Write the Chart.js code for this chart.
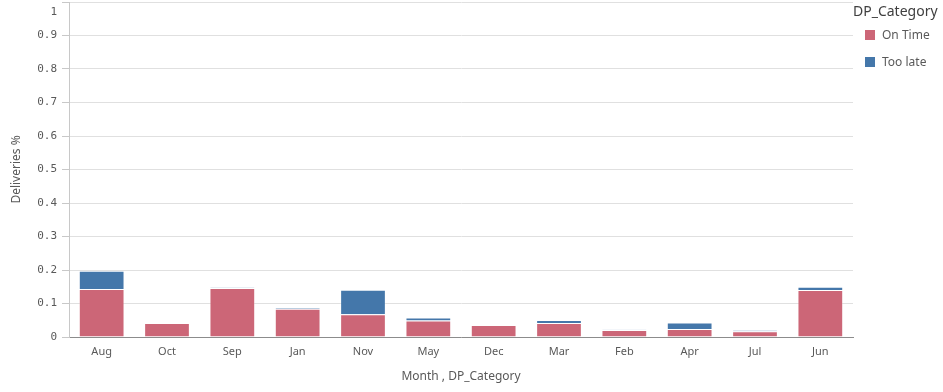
<!DOCTYPE html>
<html>
<head>
<meta charset="utf-8">
<script src="https://cdn.jsdelivr.net/npm/chart.js@4/dist/chart.umd.min.js"></script>
<style>
  html, body { margin: 0; padding: 0; background: #fff; }
  #wrap { position: relative; width: 943px; height: 392px; overflow: hidden; }
  #legend { position: absolute; left: 853px; top: 0; width: 90px; font-family: "Noto Sans", sans-serif; color: #595959; }
  #legend .title { position: absolute; left: 0; top: 1px; font-size: 14px; white-space: nowrap; color: #404040; }
  #legend .item { position: absolute; left: 12px; font-size: 12px; white-space: nowrap; }
  #legend .sw { display: inline-block; width: 10px; height: 10px; vertical-align: -1px; margin-right: 7px; }
</style>
</head>
<body>
<div id="wrap">
  <canvas id="c" width="943" height="392"></canvas>
  <div id="legend">
    <div class="title">DP_Category</div>
    <div class="item" style="top:26px"><span class="sw" style="background:#cc6677"></span>On Time</div>
    <div class="item" style="top:53px"><span class="sw" style="background:#4477aa"></span>Too late</div>
  </div>
</div>
<script>
const months = ["Aug","Oct","Sep","Jan","Nov","May","Dec","Mar","Feb","Apr","Jul","Jun"];
const onTime = [0.143, 0.042, 0.146, 0.084, 0.068, 0.049, 0.036, 0.042, 0.021, 0.024, 0.017, 0.140];
const tooLate = [0.055, 0, 0.002, 0.004, 0.073, 0.009, 0, 0.009, 0.001, 0.019, 0.003, 0.010];
const seriesNames = ["On Time", "Too late"];
const yTicks = [0, 0.1, 0.2, 0.3, 0.4, 0.5, 0.6, 0.7, 0.8, 0.9, 1];

const topLabel = {
  id: 'topLabel',
  afterDraw(chart) {
    const s = chart.scales.y;
    const ctx = chart.ctx;
    ctx.save();
    ctx.font = '11px "DejaVu Sans Mono", monospace';
    ctx.fillStyle = '#595959';
    ctx.textAlign = 'right';
    ctx.textBaseline = 'middle';
    ctx.fillText('1', s.right - 12, s.getPixelForValue(1) + 10);
    ctx.restore();
  }
};

new Chart(document.getElementById('c'), {
  type: 'bar',
  data: {
    labels: months,
    datasets: [
      { label: seriesNames[0], data: onTime, backgroundColor: '#cc6677', borderColor: 'rgba(255,255,255,0.3)', borderWidth: 1 },
      { label: seriesNames[1], data: tooLate, backgroundColor: '#4477aa', borderColor: 'rgba(255,255,255,0.3)', borderWidth: 1 }
    ]
  },
  plugins: [topLabel],
  options: {
    responsive: false,
    animation: false,
    devicePixelRatio: 1,
    layout: { padding: { top: 2, right: 90, left: 0, bottom: 0 } },
    datasets: { bar: { categoryPercentage: 1, barPercentage: 0.7 } },
    plugins: { legend: { display: false }, tooltip: { enabled: false } },
    scales: {
      x: {
        stacked: true,
        afterFit(s) { s.height = 55; s.paddingLeft = 0; s.paddingRight = 0; },
        grid: { display: true, drawOnChartArea: false, drawTicks: false },
        border: { display: true, color: '#8c8c8c', width: 1 },
        ticks: { color: '#595959', font: { family: '"Noto Sans", sans-serif', size: 11 }, padding: 8, maxRotation: 0 },
        title: { display: true, text: 'Month , DP_Category', color: '#595959', font: { family: '"Noto Sans", sans-serif', size: 12 }, padding: { top: 9, bottom: 8 } }
      },
      y: {
        stacked: true,
        min: 0, max: 1,
        afterFit(s) { s.width = 69; s.paddingTop = 0; s.paddingBottom = 0; },
        afterBuildTicks(s) { s.ticks = yTicks.map(v => ({ value: v })); },
        grid: { color: '#e0e0e0', tickColor: '#c8c8c8', tickLength: 7 },
        border: { display: true, color: '#c8c8c8', width: 1 },
        ticks: {
          color: '#595959', padding: 5,
          font: { family: '"DejaVu Sans Mono", monospace', size: 11 },
          callback: (v) => v === 1 ? '' : String(Math.round(v * 10) / 10)
        },
        title: { display: true, text: 'Deliveries %', color: '#595959', font: { family: '"Noto Sans", sans-serif', size: 12 }, padding: { top: 9, bottom: 0 } }
      }
    }
  }
});
</script>
</body>
</html>
